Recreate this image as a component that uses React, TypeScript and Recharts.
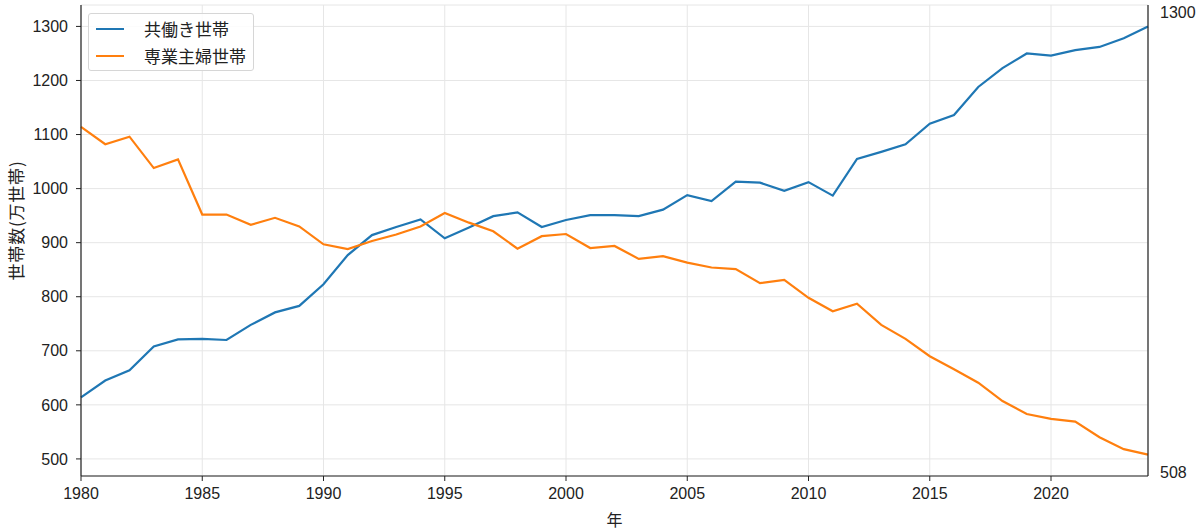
import {
  LineChart,
  Line,
  XAxis,
  YAxis,
  CartesianGrid,
} from 'recharts';

const years = [
  1980, 1981, 1982, 1983, 1984, 1985, 1986, 1987, 1988, 1989,
  1990, 1991, 1992, 1993, 1994, 1995, 1996, 1997, 1998, 1999,
  2000, 2001, 2002, 2003, 2004, 2005, 2006, 2007, 2008, 2009,
  2010, 2011, 2012, 2013, 2014, 2015, 2016, 2017, 2018, 2019,
  2020, 2021, 2022, 2023, 2024,
];

// 共働き世帯 (万世帯)
const dualIncome = [
  614, 645, 664, 708, 721, 722, 720, 748, 771, 783,
  823, 877, 914, 929, 943, 908, 928, 949, 956, 929,
  942, 951, 951, 949, 961, 988, 977, 1013, 1011, 996,
  1012, 987, 1055, 1068, 1082, 1120, 1136, 1188, 1223, 1250,
  1246, 1256, 1262, 1278, 1300,
];

// 専業主婦世帯 (万世帯)
const housewife = [
  1114, 1082, 1096, 1038, 1054, 952, 952, 933, 946, 930,
  897, 888, 903, 915, 930, 955, 937, 921, 889, 912,
  916, 890, 894, 870, 875, 863, 854, 851, 825, 831,
  798, 773, 787, 748, 722, 690, 666, 641, 607, 583,
  574, 569, 540, 518, 508,
];

const seriesNames = ['共働き世帯', '専業主婦世帯'];
const seriesColors = ['#1f77b4', '#ff7f0e'];

const xTicks = [1980, 1985, 1990, 1995, 2000, 2005, 2010, 2015, 2020];
const yTicks = [500, 600, 700, 800, 900, 1000, 1100, 1200, 1300];
// right-hand labels: the last values of the two series
const rightTicks = [508, 1300];

const yMin = 508;
const yMax = 1300;
const pad = (yMax - yMin) * 0.05;

const data = years.map((year, i) => ({
  year,
  dual: dualIncome[i],
  wife: housewife[i],
}));

const FONT = '"Liberation Sans", Arial, "Noto Sans CJK JP", sans-serif';
const JP_FONT = '"Noto Sans CJK JP", "Liberation Sans", sans-serif';

function LegendBox() {
  return (
    <div
      style={{
        position: 'absolute',
        left: 88,
        top: 13,
        border: '1px solid #d6d6d6',
        borderRadius: 3,
        background: 'rgba(255,255,255,0.85)',
        padding: '1px 0 1px 7px',
        width: 157,
        fontFamily: JP_FONT,
        fontSize: 17,
        color: '#222',
      }}
    >
      {seriesNames.map((name, i) => (
        <div
          key={name}
          style={{ display: 'flex', alignItems: 'center', height: 27 }}
        >
          <svg width={28} height={4} style={{ marginRight: 20 }}>
            <line x1={0} y1={2} x2={28} y2={2} stroke={seriesColors[i]} strokeWidth={2} />
          </svg>
          <span style={{ lineHeight: '27px' }}>{name}</span>
        </div>
      ))}
    </div>
  );
}

function YLabel(props: any) {
  const vb = props.viewBox || {};
  const cx = (vb.x ?? 0) + 15;
  const cy = (vb.y ?? 0) + (vb.height ?? 0) / 2 - 20;
  return (
    <text
      x={cx}
      y={cy}
      transform={`rotate(-90 ${cx} ${cy})`}
      textAnchor="middle"
      dominantBaseline="central"
      fontFamily={JP_FONT}
      fontSize={17}
      letterSpacing={0.8}
      fill="#222"
    >
      世帯数(万世帯)
    </text>
  );
}

export default function App() {
  const tickStyle = { fill: '#222', fontSize: 16, fontFamily: FONT };
  return (
    <div style={{ position: 'absolute', left: 0, top: 0, width: 1200, height: 530, background: '#fff' }}>
      <LineChart
        width={1200}
        height={530}
        data={data}
        margin={{ top: 5, right: 0, left: 0, bottom: 0 }}
      >
        <CartesianGrid yAxisId="left" stroke="#e6e6e6" strokeWidth={1} />
        <XAxis
          dataKey="year"
          type="number"
          domain={[1980, 2024]}
          ticks={xTicks}
          height={54}
          tickSize={5}
          tickMargin={7}
          tick={tickStyle}
          axisLine={{ stroke: '#222', strokeWidth: 1.2 }}
          tickLine={{ stroke: '#222' }}
          label={{
            value: '年',
            position: 'insideBottom',
            offset: 4,
            fill: '#222',
            fontSize: 16,
            fontFamily: JP_FONT,
          }}
        />
        <XAxis
          xAxisId="top"
          orientation="top"
          dataKey="year"
          type="number"
          domain={[1980, 2024]}
          height={0}
          tick={false}
          tickLine={false}
          axisLine={{ stroke: '#222', strokeWidth: 1.2 }}
        />
        <YAxis
          yAxisId="left"
          type="number"
          domain={[yMin - pad, yMax + pad]}
          ticks={yTicks}
          width={81}
          tickSize={5}
          tickMargin={8}
          tick={tickStyle}
          axisLine={{ stroke: '#222', strokeWidth: 1.2 }}
          tickLine={{ stroke: '#222' }}
          label={<YLabel />}
        />
        <YAxis
          yAxisId="right"
          orientation="right"
          type="number"
          domain={[501, 1312]}
          ticks={rightTicks}
          width={52}
          tickSize={0}
          tickLine={false}
          tickMargin={12}
          tick={tickStyle}
          axisLine={{ stroke: '#222', strokeWidth: 1.2 }}
        />
        {/* draws nothing: keeps the top and right axes bound to data */}
        <Line
          xAxisId="top"
          yAxisId="right"
          dataKey="dual"
          stroke="none"
          dot={false}
          activeDot={false}
          legendType="none"
          isAnimationActive={false}
        />
        <Line
          yAxisId="left"
          dataKey="dual"
          name={seriesNames[0]}
          stroke={seriesColors[0]}
          strokeWidth={2.2}
          dot={false}
          isAnimationActive={false}
        />
        <Line
          yAxisId="left"
          dataKey="wife"
          name={seriesNames[1]}
          stroke={seriesColors[1]}
          strokeWidth={2.2}
          dot={false}
          isAnimationActive={false}
        />
      </LineChart>
      <LegendBox />
    </div>
  );
}
